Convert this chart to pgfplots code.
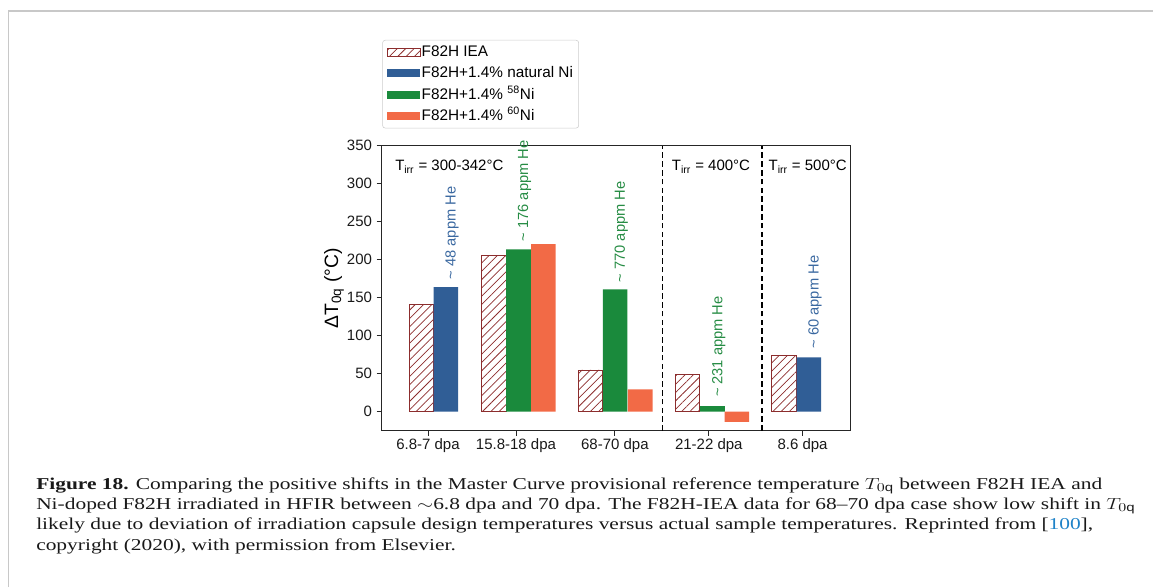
\documentclass[border=0pt]{standalone}
\usepackage{pgfplots}
\pgfplotsset{compat=1.18}
\usepackage{pgfplotstable}
\usepackage{graphicx}
\usepackage{fontspec}
\setmainfont{Liberation Sans}
\newfontfamily\capfont{Liberation Serif}
\usetikzlibrary{patterns.meta}
\definecolor{hatchred}{RGB}{140,45,45}
\definecolor{barblue}{RGB}{48,94,150}
\definecolor{bargreen}{RGB}{26,138,60}
\definecolor{barorange}{RGB}{242,106,70}
\definecolor{txtblue}{RGB}{58,104,160}
\definecolor{txtgreen}{RGB}{38,140,68}
\definecolor{framegray}{RGB}{200,200,200}
\definecolor{linkblue}{RGB}{30,130,200}
\pgfplotstableread{
x y
1.61 141
4.56 206
8.49 55
12.43 49.6
16.35 74.6
}\iea
\pgfplotstableread{
x y
2.61 164
17.37 71.5
}\natni
\pgfplotstableread{
x y
5.56 213.6
9.49 161
13.45 7.5
}\nififtyeight
\pgfplotstableread{
x y
6.57 220.6
10.51 29.5
14.44 -13.5
}\nisixty
\newsavebox\capbox
\newlength\capwd
\newcommand\capsz{\capfont\fontsize{12.45}{15}\selectfont\color{black!90}}
\tikzset{hatchstyle/.style={draw=hatchred, line width=0.55pt,
  pattern={Lines[angle=45,distance=4.4pt,line width=0.55pt]}, pattern color=hatchred}}
\pgfplotsset{
  legiea/.style={legend image code/.code={\draw[hatchstyle, sharp corners] (0pt,-3pt) rectangle (24.5pt,3pt);}},
  legblue/.style={legend image code/.code={\fill[barblue, sharp corners] (0pt,-3pt) rectangle (24.5pt,3pt);}},
  leggreen/.style={legend image code/.code={\fill[bargreen, sharp corners] (0pt,-3pt) rectangle (24.5pt,3pt);}},
  legorange/.style={legend image code/.code={\fill[barorange, sharp corners] (0pt,-3pt) rectangle (24.5pt,3pt);}},
}
\begin{document}%
\sbox\capbox{\capsz\textbf{Figure 18.} Comparing the positive shifts in the Master Curve provisional reference temperature $T_{0\mathrm{q}}$ between F82H IEA and}%
\setlength\capwd{\wd\capbox}%
\pgfmathsetmacro\capscale{799.5/\capwd}%
\begin{tikzpicture}
\useasboundingbox (0,0) rectangle (864.75pt,440.25pt);
\draw[framegray, line width=1.1pt] (6.2pt,0pt) -- (6.2pt,432pt) -- (864.75pt,432pt);
\begin{axis}[
  at={(286.275pt,117.225pt)}, anchor=south west,
  width=351.225pt, height=213.75pt, scale only axis,
  xmin=0, xmax=19.04, ymin=-25, ymax=350,
  clip=false,
  axis line style={black!85, line width=0.6pt},
  tick style={black!85, line width=0.6pt},
  tick align=outside, major tick length=3.75pt,
  tick pos=left,
  xtick={1.88,5.46,9.48,13.30,17.11},
  xticklabels={6.8-7 dpa,15.8-18 dpa,68-70 dpa,21-22 dpa,8.6 dpa},
  ytick={0,50,...,350},
  /pgf/number format/assume math mode=true,
  tick label style={font=\fontsize{11.25}{13}\selectfont, text=black!90},
  xticklabel style={yshift=1.5pt},
  ylabel={ΔT\textsubscript{0q} (°C)},
  every axis y label/.style={at={(rel axis cs:-0.1019,0.5)}, rotate=90, anchor=center, font=\fontsize{14.5}{16}\selectfont},
  legend style={at={(rel axis cs:0.0013,1.371)}, anchor=north west,
    draw=black!20, rounded corners=2pt, inner xsep=3.3pt, inner ysep=3.6pt,
    row sep=5.3pt, font=\fontsize{11.5}{13}\selectfont,
    nodes={inner xsep=1pt, inner ysep=0pt, text height=8.5pt, text depth=2.2pt}},
  legend cell align=left,
]
\addplot[ybar, bar width=1, bar shift=0pt, hatchstyle, legiea]
  table[x=x,y=y]{\iea};
\addlegendentry{F82H IEA}
\addplot[ybar, bar width=1, bar shift=0pt, draw=none, fill=barblue, legblue]
  table[x=x,y=y]{\natni};
\addlegendentry{F82H+1.4\% natural Ni}
\addplot[ybar, bar width=1, bar shift=0pt, draw=none, fill=bargreen, leggreen]
  table[x=x,y=y]{\nififtyeight};
\addlegendentry{F82H+1.4\% \textsuperscript{58}Ni}
\addplot[ybar, bar width=1, bar shift=0pt, draw=none, fill=barorange, legorange]
  table[x=x,y=y]{\nisixty};
\addlegendentry{F82H+1.4\% \textsuperscript{60}Ni}
\addplot[black, line width=1.2pt, dash pattern=on 4.2pt off 2.4pt, forget plot] coordinates {(11.41,-25) (11.41,350)};
\addplot[black, line width=1.2pt, dash pattern=on 4.2pt off 2.4pt, forget plot] coordinates {(15.45,-25) (15.45,350)};
\node[anchor=base west, inner sep=0, font=\fontsize{11.25}{13}\selectfont] at (axis cs:0.54,317) {T\textsubscript{irr} = 300-342°C};
\node[anchor=base west, inner sep=0, font=\fontsize{11.25}{13}\selectfont] at (axis cs:11.79,317) {T\textsubscript{irr} = 400°C};
\node[anchor=base west, inner sep=0, font=\fontsize{11.25}{13}\selectfont] at (axis cs:15.72,317) {T\textsubscript{irr} = 500°C};
\node[rotate=90, anchor=west, inner sep=0, text=txtblue, font=\fontsize{11}{13}\selectfont] at (axis cs:2.86,174) {\textasciitilde{} 48 appm He};
\node[rotate=90, anchor=west, inner sep=0, text=txtgreen, font=\fontsize{11}{13}\selectfont] at (axis cs:5.81,224) {\textasciitilde{} 176 appm He};
\node[rotate=90, anchor=west, inner sep=0, text=txtgreen, font=\fontsize{11}{13}\selectfont] at (axis cs:9.74,170) {\textasciitilde{} 770 appm He};
\node[rotate=90, anchor=west, inner sep=0, text=txtgreen, font=\fontsize{11}{13}\selectfont] at (axis cs:13.70,19) {\textasciitilde{} 231 appm He};
\node[rotate=90, anchor=west, inner sep=0, text=txtblue, font=\fontsize{11}{13}\selectfont] at (axis cs:17.62,83) {\textasciitilde{} 60 appm He};
\end{axis}
\node[anchor=base west, inner sep=0] at (27pt,73.3pt) {\scalebox{\capscale}[1]{\usebox\capbox}};
\node[anchor=base west, inner sep=0] at (27pt,58.3pt) {\scalebox{\capscale}[1]{\capsz Ni-doped F82H irradiated in HFIR between $\sim$6.8 dpa and 70 dpa. The F82H-IEA data for 68–70 dpa case show low shift in $T_{0\mathrm{q}}$}};
\node[anchor=base west, inner sep=0] at (27pt,43.1pt) {\scalebox{\capscale}[1]{\capsz likely due to deviation of irradiation capsule design temperatures versus actual sample temperatures. Reprinted from [\textcolor{linkblue}{100}],}};
\node[anchor=base west, inner sep=0] at (27pt,27.75pt) {\scalebox{\capscale}[1]{\capsz copyright (2020), with permission from Elsevier.}};
\end{tikzpicture}%
\end{document}
